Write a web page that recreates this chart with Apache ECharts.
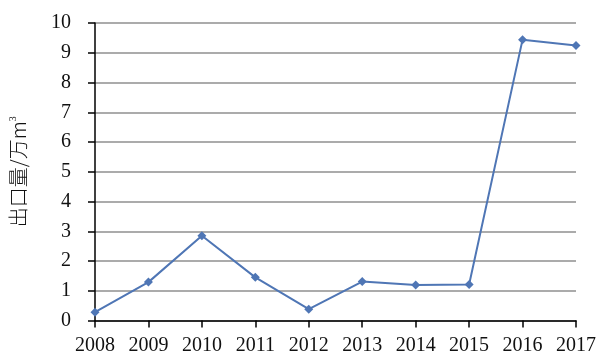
<!DOCTYPE html>
<html>
<head>
<meta charset="utf-8">
<script src="https://cdn.jsdelivr.net/npm/echarts@6/dist/echarts.min.js"></script>
<style>html,body{margin:0;padding:0;background:#fff;}#c{width:600px;height:364px;}</style>
</head>
<body>
<div id="c"></div>
<script>
const years = ['2008','2009','2010','2011','2012','2013','2014','2015','2016','2017'];
const exportVolume = [0.28, 1.29, 2.85, 1.45, 0.38, 1.31, 1.19, 1.21, 9.44, 9.24];
const yMin = 0, yMax = 10, yInterval = 1;

const chart = echarts.init(document.getElementById('c'));
chart.setOption({
  backgroundColor: '#fff',
  animation: false,
  grid: { left: 95, right: 24, top: 23, bottom: 43.5, containLabel: false, outerBoundsMode: 'none' },
  xAxis: {
    type: 'category',
    data: years,
    boundaryGap: false,
    axisLine: { lineStyle: { color: '#000', width: 1.5 } },
    axisTick: { show: true, length: 7, alignWithLabel: true, lineStyle: { color: '#000', width: 1.5 } },
    axisLabel: { color: '#111', fontFamily: 'Liberation Serif', fontSize: 20, margin: 15 },
    splitLine: { show: false }
  },
  yAxis: {
    type: 'value',
    min: yMin, max: yMax, interval: yInterval,
    name: '出口量/万m{sup|3}',
    nameLocation: 'middle',
    nameGap: 67,
    nameRotate: 90,
    nameTextStyle: {
      color: '#111', fontFamily: 'Noto Sans CJK SC', fontSize: 20, fontWeight: 300,
      rich: { sup: { fontSize: 10, verticalAlign: 'top', padding: [0,0,8,0], color: '#111', fontFamily: 'Liberation Serif' } }
    },
    axisLine: { show: true, lineStyle: { color: '#000', width: 1.5 } },
    axisTick: { show: true, length: 7, lineStyle: { color: '#000', width: 1.5 } },
    axisLabel: { color: '#111', fontFamily: 'Liberation Serif', fontSize: 20, margin: 24 },
    splitLine: { show: true, lineStyle: { color: '#8f8f8f', width: 1.5 } }
  },
  series: [{
    type: 'line',
    data: exportVolume,
    symbol: 'diamond',
    symbolSize: 9,
    lineStyle: { color: '#4f76b5', width: 2 },
    itemStyle: { color: '#4f76b5' }
  }]
});
</script>
</body>
</html>
